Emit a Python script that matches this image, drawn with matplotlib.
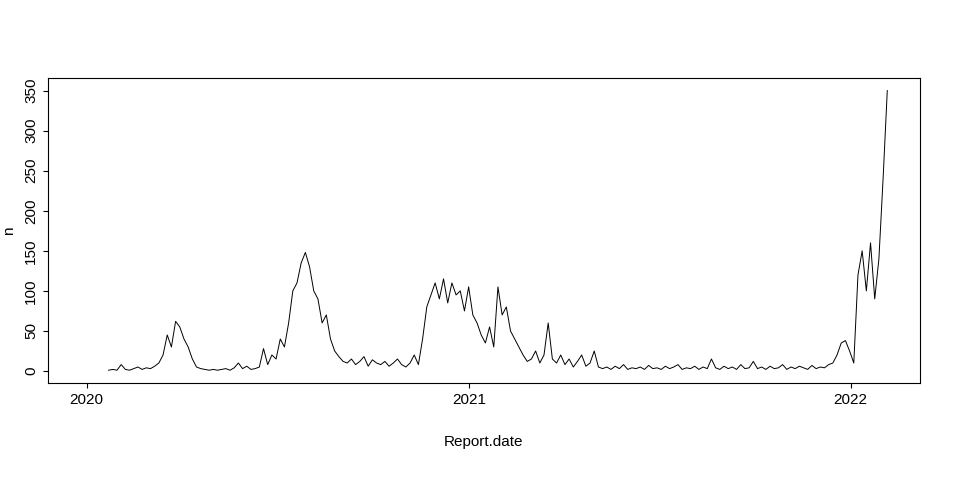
import numpy as np
import pandas as pd
import matplotlib.pyplot as plt
import matplotlib.dates as mdates

plt.rcParams['font.family'] = ['Liberation Sans', 'DejaVu Sans']

# approximate counts, every 4 days
n = [1, 2, 1, 8, 2, 1, 3, 5, 2, 4, 3, 6,
     10, 20, 45, 30, 62, 55, 40, 30, 15, 5,
     3, 2, 1, 2, 1, 2, 3, 1, 4, 10, 3, 6, 2, 3,
     5, 28, 8, 20,
     15, 40, 30, 60, 100, 110, 135,
     148, 130, 100, 90, 60, 70, 40, 25, 18, 12,
     10, 15, 8, 12, 18, 6, 14, 10, 8, 12, 6, 10, 15, 8, 5, 10, 20, 8,
     40, 80, 95, 110,
     90, 115, 85, 110, 95, 100, 75, 105, 70,
     60, 45, 35, 55, 30, 105, 70, 80, 50,
     40, 30, 20, 12, 15, 25, 10, 20, 60, 15, 10, 20,
     8, 15, 5, 12, 20, 6, 10, 25, 5,
     3, 5, 2, 6, 3, 8, 2, 4, 3, 5, 2, 7, 3, 4, 2, 6, 3, 5, 8, 2,
     4, 3, 6, 2, 5, 3, 15, 4, 2, 6, 3, 5, 2, 8, 3, 4, 12, 3, 5, 2,
     6, 3, 4, 8, 2, 5, 3, 6, 4, 2, 7, 3, 5, 4, 8,
     10, 20, 35, 38, 25, 10,
     120, 150, 100, 160, 90, 140, 240, 350]

start = mdates.date2num(pd.Timestamp('2020-01-22'))
end = mdates.date2num(pd.Timestamp('2022-02-05'))
dates = np.linspace(start, end, len(n))

fig = plt.figure(figsize=(9.6, 4.8), dpi=100)
ax = fig.add_axes([0.05, 0.202, 0.908, 0.636])
ax.plot(dates, n, color='black', linewidth=0.7)

ax.set_xlim(mdates.date2num(pd.Timestamp('2019-11-25')),
            mdates.date2num(pd.Timestamp('2022-03-08')))
ax.set_ylim(-15, 366)
ax.set_xticks([mdates.date2num(pd.Timestamp(f'{y}-01-01')) for y in (2020, 2021, 2022)])
ax.set_xticklabels(['2020', '2021', '2022'])
ax.set_yticks(range(0, 351, 50))
ax.set_yticklabels([str(v) for v in range(0, 351, 50)], rotation=90, va='center')
ax.tick_params(labelsize=11)
ax.set_xlabel('Report.date', fontsize=11, labelpad=20)
ax.set_ylabel('n', fontsize=11, labelpad=6)

fig.savefig('out.png')
